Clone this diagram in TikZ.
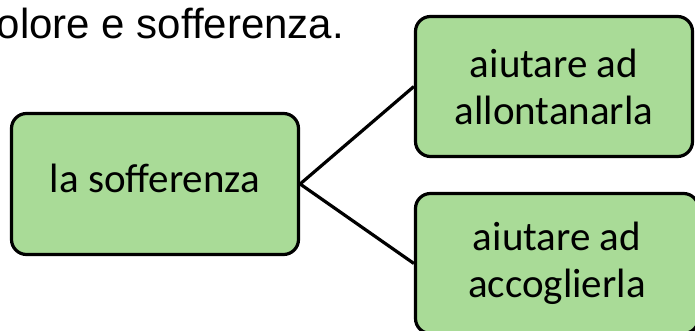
\documentclass[tikz,border=0pt]{standalone}
\usepackage{fontspec}
\setmainfont{Carlito}
\newfontfamily\arialfont{Liberation Sans}
\definecolor{boxgreen}{HTML}{A9DB97}
\tikzset{
  gbox/.style={draw=black, fill=boxgreen, line width=3.2pt, rounded corners=15pt,
    inner sep=0pt, align=center, font=\fontsize{41}{47}\selectfont},
  conn/.style={draw=black, line width=3.2pt}
}
\begin{document}
\begin{tikzpicture}[x=1pt,y=1pt]
\useasboundingbox (0,0) rectangle (695,331);
\clip (0,0) rectangle (695,331);
\node[anchor=base east, inner sep=0pt, font=\arialfont\fontsize{42}{50}\selectfont] (title) at (344,292) {dolore e sofferenza.};
\node[gbox, minimum width=287pt, minimum height=141pt, text height=24pt, text depth=6pt] (src) at (155,147) {la sofferenza};
\node[gbox, minimum width=277pt, minimum height=140pt] (top) at (554,244.5) {aiutare ad\\allontanarla};
\node[gbox, minimum width=283pt, minimum height=140pt] (bot) at (557,67.5) {aiutare ad\\accoglierla};
\draw[conn] (src.east) -- (top.west);
\draw[conn] (src.east) -- (bot.west);
\end{tikzpicture}
\end{document}
